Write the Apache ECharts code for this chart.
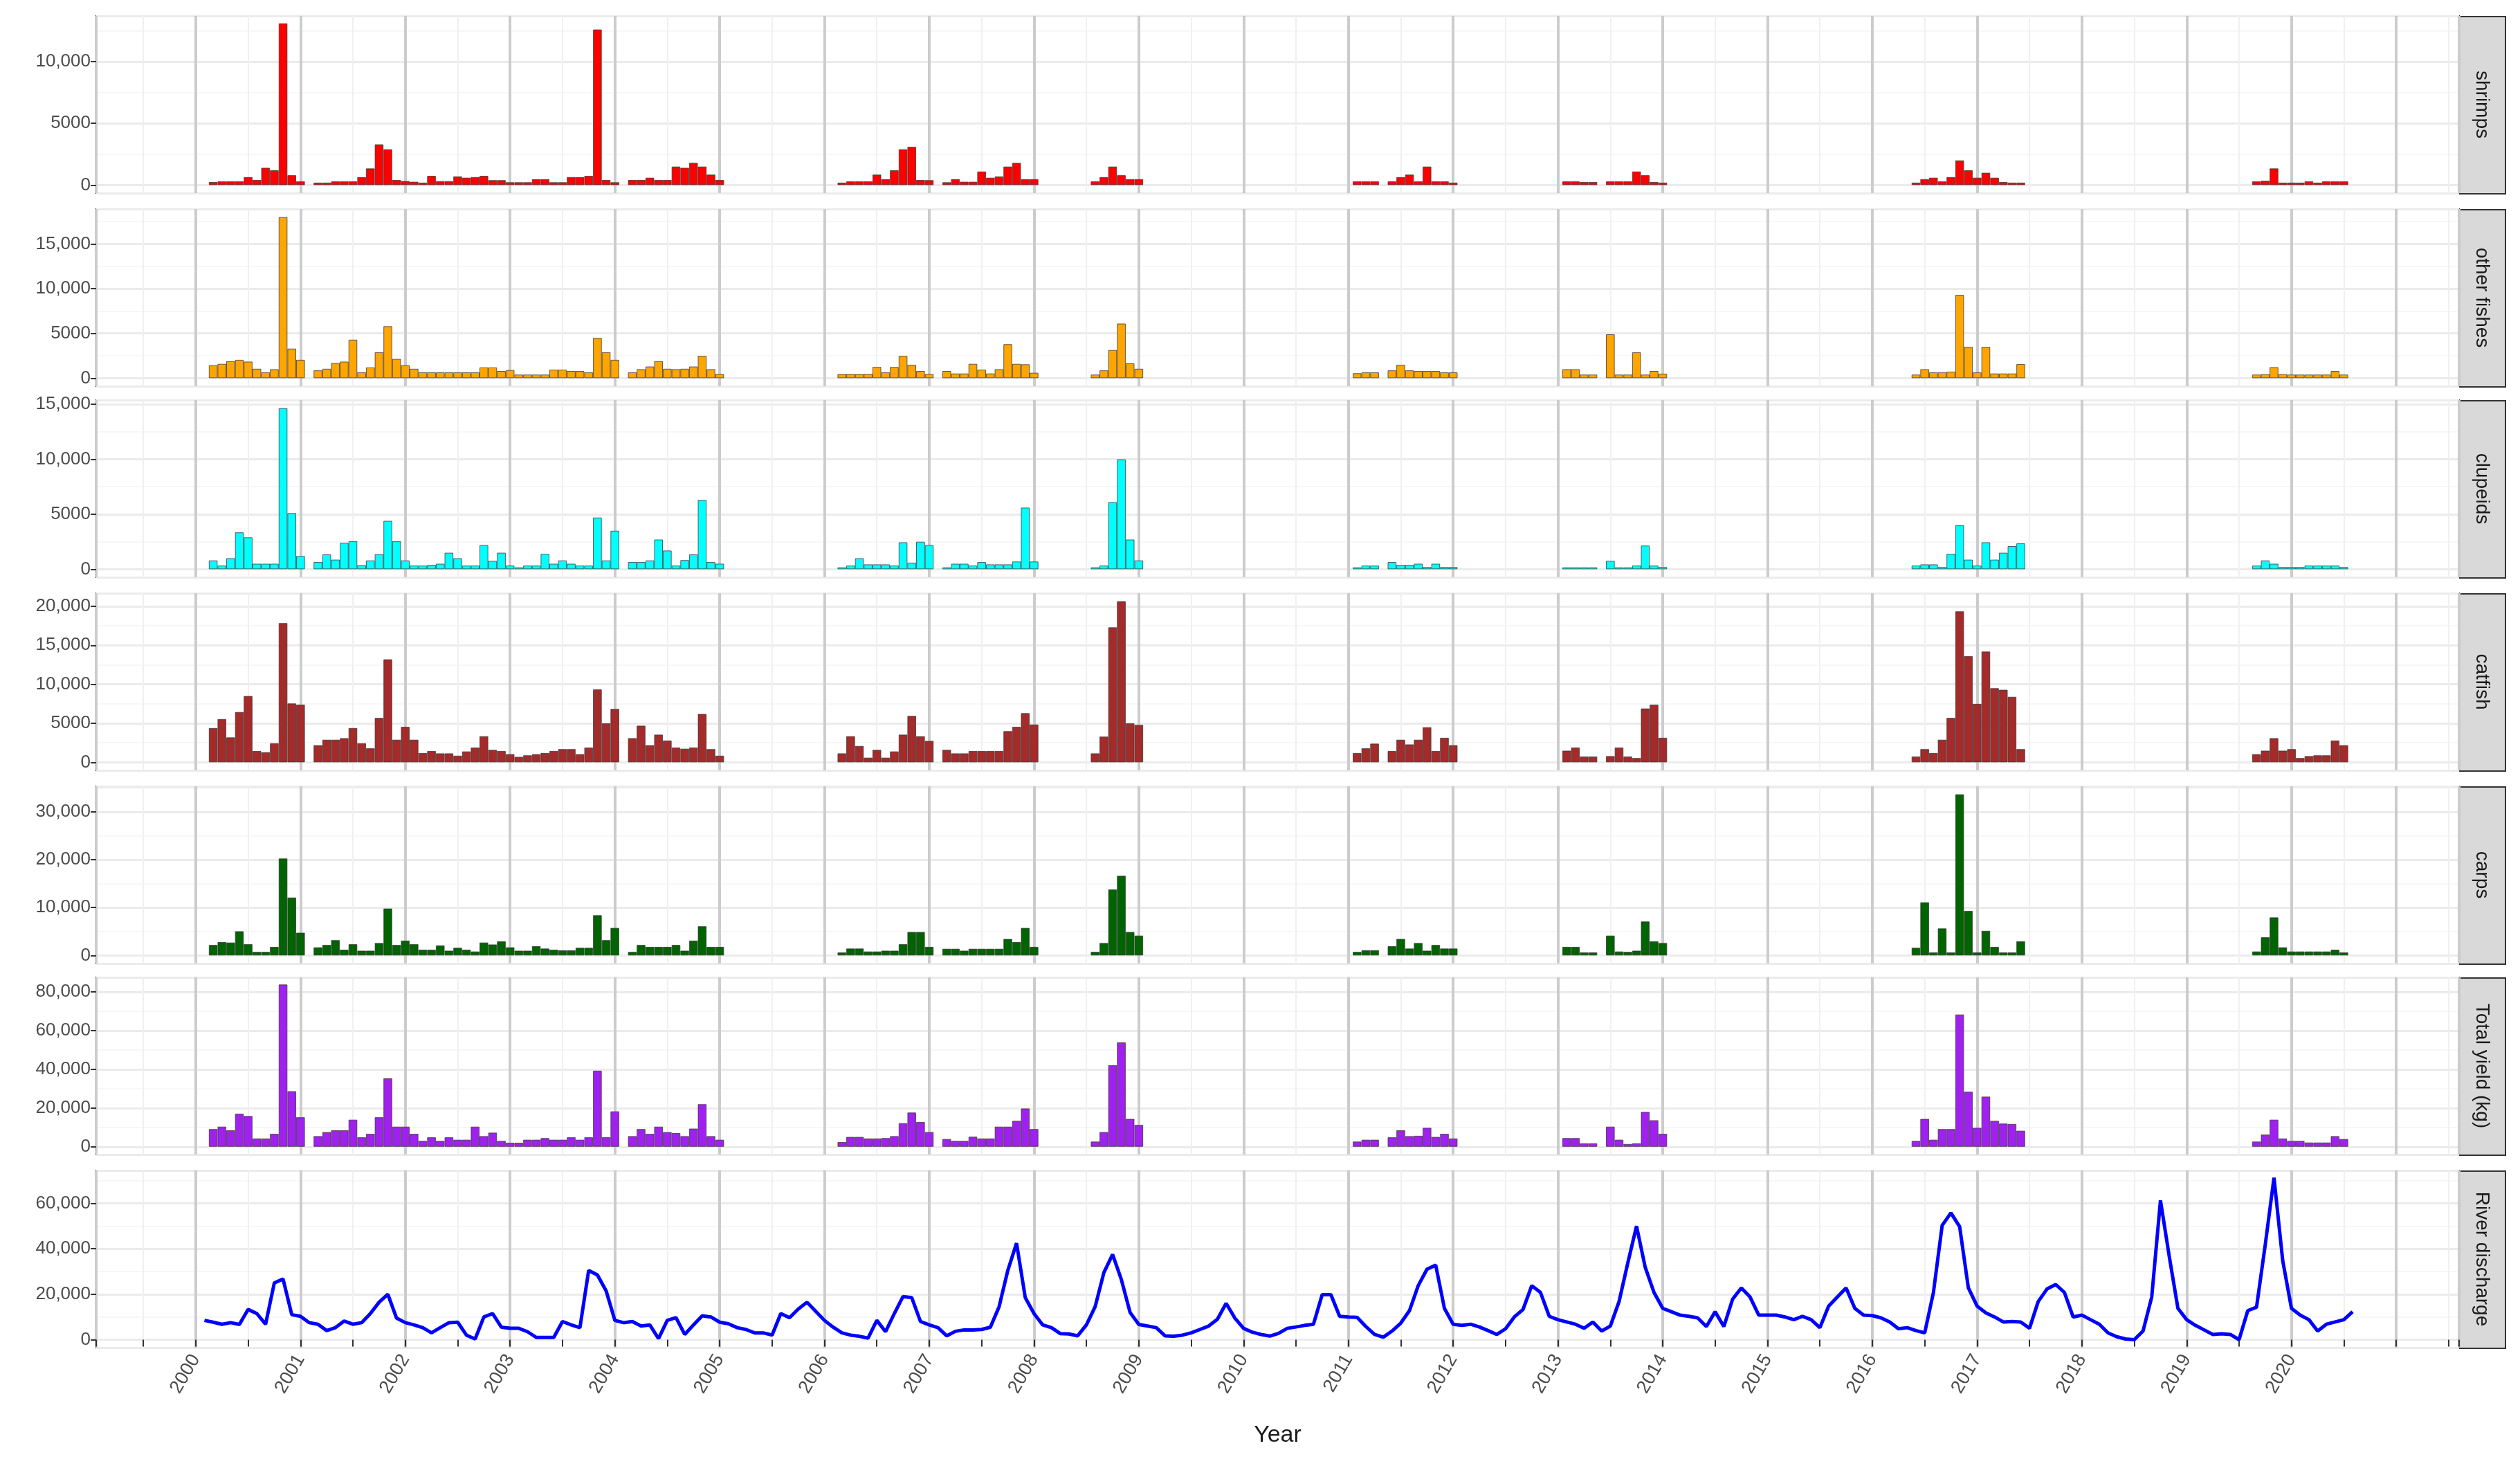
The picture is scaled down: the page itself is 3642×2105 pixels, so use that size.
<!DOCTYPE html>
<html><head><meta charset="utf-8">
<script src="https://cdn.jsdelivr.net/npm/echarts@6/dist/echarts.min.js"></script>
<style>html,body{margin:0;padding:0;background:#fff}#c{width:3642px;height:2105px}</style>
</head><body><div id="c"></div>
<script>
// Segment start months (bars shared by all catch panels)
const segStarts = ['2000-02','2001-02','2004-02','2006-02','2007-02','2008-07','2011-01','2011-05','2013-01','2013-06','2016-05','2019-08'];

const shrimps = [
 [250,300,300,300,650,420,1400,1200,13100,800,300],
 [200,200,300,300,300,650,1350,3300,2900,420,330,270,200,750,320,320,700,600,650,750,400,400,230,230,230,480,480,230,230,650,650,750,12600,420,230],
 [420,420,600,420,420,1500,1400,1800,1500,850,420],
 [200,300,300,300,850,480,1200,2900,3100,420,400],
 [230,480,270,270,1100,600,700,1500,1800,480,480],
 [300,650,1500,800,480,480],
 [300,300,300],
 [300,650,850,300,1500,300,300,200],
 [300,300,250,250],
 [300,300,300,1100,800,250,200],
 [200,480,600,300,650,2000,1200,600,1000,600,250,200,200],
 [300,350,1350,200,200,200,300,200,300,300,300]
];
const otherFishes = [
 [1450,1600,1900,2050,1850,1050,650,1000,18000,3300,2050],
 [870,1050,1700,1850,4300,650,1200,2900,5800,2150,1450,1050,650,650,650,650,650,650,650,1200,1200,800,900,400,400,400,400,950,950,800,800,650,4500,2900,2050],
 [650,1000,1300,1900,1050,1000,1050,1300,2500,1000,470],
 [470,470,470,470,1250,650,1250,2500,1500,800,470],
 [800,520,520,1600,950,520,1000,3800,1600,1550,600],
 [400,870,3150,6100,1650,1050],
 [550,650,650],
 [870,1500,870,800,800,800,650,650],
 [1000,1000,400,400],
 [4900,400,400,2900,400,800,500],
 [400,1000,650,650,730,9300,3500,650,3500,520,520,520,1570],
 [400,450,1230,450,400,400,400,400,400,800,400]
];
const clupeids = [
 [800,330,1000,3350,2900,500,500,500,14650,5100,1200],
 [650,1350,870,2400,2550,370,800,1370,4400,2550,800,330,330,400,500,1500,1000,330,330,2200,760,1500,330,170,330,330,1400,500,800,500,330,330,4700,800,3500],
 [650,650,800,2700,1700,330,830,1350,6300,650,500],
 [170,330,1000,440,440,440,330,2450,600,2500,2200],
 [170,500,500,330,650,440,440,440,700,5600,700],
 [170,330,6100,10000,2700,800],
 [170,330,330],
 [650,400,400,500,200,500,200,200],
 [170,170,170,170],
 [760,170,170,330,2150,330,200],
 [330,440,440,200,1400,4000,870,330,2450,870,1500,2100,2350],
 [330,800,500,200,200,200,330,330,330,330,200]
];
const catfish = [
 [4400,5550,3200,6450,8500,1450,1300,2450,17850,7550,7400],
 [2200,2900,2900,3100,4400,2450,1800,5700,13200,2900,4550,2900,1200,1450,1150,1150,850,1400,1900,3350,1600,1450,1050,700,900,1050,1200,1450,1700,1700,1050,1900,9350,5000,6850],
 [3100,4700,2200,3550,2800,1900,1750,1900,6200,1700,850],
 [1150,3350,2100,600,1600,600,1400,3550,5950,3350,2750],
 [1600,1150,1150,1450,1450,1450,1450,4000,4550,6300,4850],
 [1150,3300,17300,20650,5000,4800],
 [1200,1800,2400],
 [1450,2900,2300,2900,4500,1450,3150,2200],
 [1500,1900,750,750],
 [800,1900,750,550,6900,7400,3150],
 [750,1700,1200,2900,5700,19350,13600,7500,14200,9500,9300,8400,1700],
 [1050,1500,3100,1500,1700,550,800,900,900,2800,2200]
];
const carps = [
 [2200,2800,2700,5050,2350,750,750,1800,20250,12100,4750],
 [1700,2200,3200,1200,2350,1000,1000,2600,9800,2200,3100,2350,1200,1200,2100,1000,1600,1200,830,2700,2300,2950,1700,1000,1000,1950,1450,1200,1080,1080,1600,1600,8400,3200,5750],
 [750,2200,1800,1800,1800,2200,1000,3100,6100,1800,1800],
 [640,1450,1450,830,830,1000,1000,2350,4900,4900,1800],
 [1400,1400,1000,1400,1400,1400,1400,3450,2800,5750,1800],
 [750,2600,13800,16650,4900,4150],
 [750,1100,1100],
 [1950,3450,1450,2600,1000,2200,1450,1450],
 [1800,1800,640,640],
 [4150,830,750,1000,7100,2950,2600],
 [1600,11100,640,5650,640,33650,9300,640,5150,1800,640,640,2950],
 [830,3800,7950,1700,830,830,830,830,830,1200,640]
];
const totalYield = [
 [9150,10400,8550,17100,15900,4300,4300,6700,83800,28700,15250],
 [5500,7600,8550,8550,14000,4900,6700,15250,35400,10400,10400,6700,3050,4900,3050,4900,3650,3650,10400,5500,7300,3050,2100,2100,3650,3650,4500,3650,3650,4900,3650,4900,39300,5000,18300],
 [5500,9150,6700,10400,7600,7100,5500,9400,22000,5500,3650],
 [2450,5100,5100,4300,4300,4500,5500,12200,17700,12800,7600],
 [4000,3050,3050,5200,4300,4300,10400,10400,13400,19800,9150],
 [2700,7600,42100,53900,14400,11300],
 [2700,3650,3650],
 [4900,8550,5500,5700,9800,5100,6700,4300],
 [4500,4500,1800,1800],
 [10400,3650,1460,1800,18000,13700,6700],
 [3050,14400,3650,9150,9150,68300,28400,9800,25900,13400,12000,11800,8300],
 [2700,6300,14000,4300,3050,3050,2200,2200,2200,5500,4000]
];
// River discharge, monthly from Jan 2000
const dischargeStart = '2000-01';
const discharge = [
 8500,7700,6800,7500,6700,13300,11500,6800,25000,26700,11000,10300,
 7500,6800,4000,5300,8200,6800,7500,11500,16500,20000,9500,7500,
 6500,5300,3000,5300,7500,7700,2000,300,10000,11500,5500,5000,
 5000,3500,1000,1000,1000,8000,6500,5300,30500,28500,21500,8500,
 7500,8000,6000,6500,500,8500,9700,2300,6500,10500,10000,7700,
 7000,5300,4500,3000,3000,2000,11500,9700,13500,16500,12500,8500,
 5500,3000,2000,1500,700,8500,3500,11500,19000,18500,8000,6500,
 5300,1700,3700,4300,4300,4500,5500,14500,30500,42500,18500,11500,
 6500,5300,2700,2500,1700,6500,14500,29500,37500,26500,12000,6700,
 6000,5300,1700,1500,2000,3000,4500,6000,9000,16000,9500,5000,
 3300,2300,1600,2800,5000,5600,6300,6800,19800,19800,10300,10000,
 9800,5800,2300,1100,3800,7300,12800,23800,31000,32800,13800,6800,
 6300,6800,5600,4000,2300,4800,10000,13300,23800,20800,10300,8800,
 7800,6800,5000,7800,3800,6000,16800,33800,50000,31800,20800,13800,
 12300,10800,10300,9600,5800,12300,5800,17800,22800,18800,10800,10800,
 10800,10000,8800,10300,8800,5300,14800,18800,22800,13800,10800,10600,
 9600,7800,4800,5300,4000,3000,20800,50300,55800,49800,22800,14800,
 11800,10000,7800,8000,7800,5000,16800,22300,24300,20800,10000,10800,
 8800,6800,3000,1300,300,0,3800,18800,61300,36800,13800,8800,
 6300,4300,2300,2600,2300,0,12800,14300,41800,71300,34800,13800,
 10800,8800,3800,6800,7800,8800,12300
];

const panelNames = ['shrimps','other fishes','clupeids','catfish','carps','Total yield (kg)','River discharge'];
const panelColors = ['#ff0000','#ffa500','#00ffff','#a52a2a','#006400','#a020f0','#0000ff'];
const yMin = [-650,-900,-730,-1030,-1680,-4000,-3500];
const yMax = [13700,18900,15380,21680,35330,87500,74500];
const ySplit = [3,3,3,4,3,4,4];
const xMin = 1999.05, xMax = 2021.6;
const lastYearLabel = 2020;
const OFF = 1.0;

function monthX(start, i){ const [y,m]=start.split('-').map(Number); return y + (m-1+i+OFF)/12; }
function barData(segs){ const out=[]; segs.forEach((vals,s)=>vals.forEach((v,i)=>out.push([monthX(segStarts[s],i),v]))); return out; }

const W=3642, H=2105;
const gLeft=139, gRight=88;
const tops=[23,302,578,857,1136,1412,1691];
const gH=256;
const gridW = W-gLeft-gRight;
const barW = gridW/((xMax-xMin)*12);

const fmt = v => v>=10000 ? v.toLocaleString('en-US') : String(v);
const grids=[],xAxes=[],yAxes=[],series=[],graphics=[];
const barSets=[shrimps,otherFishes,clupeids,catfish,carps,totalYield];
for(let p=0;p<7;p++){
  grids.push({left:gLeft,right:gRight,top:tops[p],height:gH,show:true,borderColor:'#333333',borderWidth:2,backgroundColor:'#ffffff',containLabel:false});
  const last = p===6;
  xAxes.push({type:'value',gridIndex:p,min:xMin,max:xMax,minInterval:1,maxInterval:1,
    axisLine:{show:false},
    axisTick:{show:last,length:10,lineStyle:{color:'#333',width:2}},
    axisLabel:{show:last,rotate:60,fontSize:27,color:'#4d4d4d',fontFamily:'Liberation Sans',margin:12,showMinLabel:false,showMaxLabel:false,
      formatter:v=>{const r=Math.round(v); return r>lastYearLabel?'':String(r);}},
    splitLine:{show:true,lineStyle:{color:'#cccccc',width:4}},
    minorTick:{show:last,splitNumber:2,length:10,lineStyle:{color:'#333',width:2}},
    minorSplitLine:{show:true,lineStyle:{color:'#f0f0f0',width:2}},
    name:last?'Year':'',nameLocation:'middle',nameGap:110,nameTextStyle:{fontSize:34,color:'#1a1a1a',fontFamily:'Liberation Sans'}
  });
  yAxes.push({type:'value',gridIndex:p,min:yMin[p],max:yMax[p],splitNumber:ySplit[p],
    axisLine:{show:false},
    axisTick:{show:true,length:8,lineStyle:{color:'#333',width:2}},
    axisLabel:{fontSize:26,color:'#4d4d4d',fontFamily:'Liberation Sans',showMinLabel:false,showMaxLabel:false,formatter:fmt},
    splitLine:{show:true,lineStyle:{color:'#ebebeb',width:3}},
    minorTick:{show:false,splitNumber:2},
    minorSplitLine:{show:true,lineStyle:{color:'#f5f5f5',width:1.5}}
  });
  if(p<6){
    series.push({type:'bar',xAxisIndex:p,yAxisIndex:p,data:barData(barSets[p]),barWidth:barW,
      itemStyle:{color:panelColors[p],borderColor:'rgba(60,60,60,0.8)',borderWidth:1},z:3,silent:true});
  } else {
    series.push({type:'line',xAxisIndex:p,yAxisIndex:p,showSymbol:false,
      data:discharge.map((v,i)=>[monthX(dischargeStart,i),v]),
      lineStyle:{color:panelColors[p],width:5},z:3,silent:true});
  }
  graphics.push({type:'rect',left:W-gRight,top:tops[p],shape:{width:66,height:gH},style:{fill:'#d9d9d9',stroke:'#333333',lineWidth:2}});
  graphics.push({type:'text',x:W-gRight+33,y:tops[p]+gH/2,rotation:-Math.PI/2,
    style:{text:panelNames[p],fontSize:28,fill:'#1a1a1a',fontFamily:'Liberation Sans',align:'center',verticalAlign:'middle'}});
}
const chart = echarts.init(document.getElementById('c'),null,{renderer:'canvas',width:W,height:H});
chart.setOption({animation:false,backgroundColor:'#ffffff',grid:grids,xAxis:xAxes,yAxis:yAxes,series:series,graphic:graphics});
</script></body></html>
